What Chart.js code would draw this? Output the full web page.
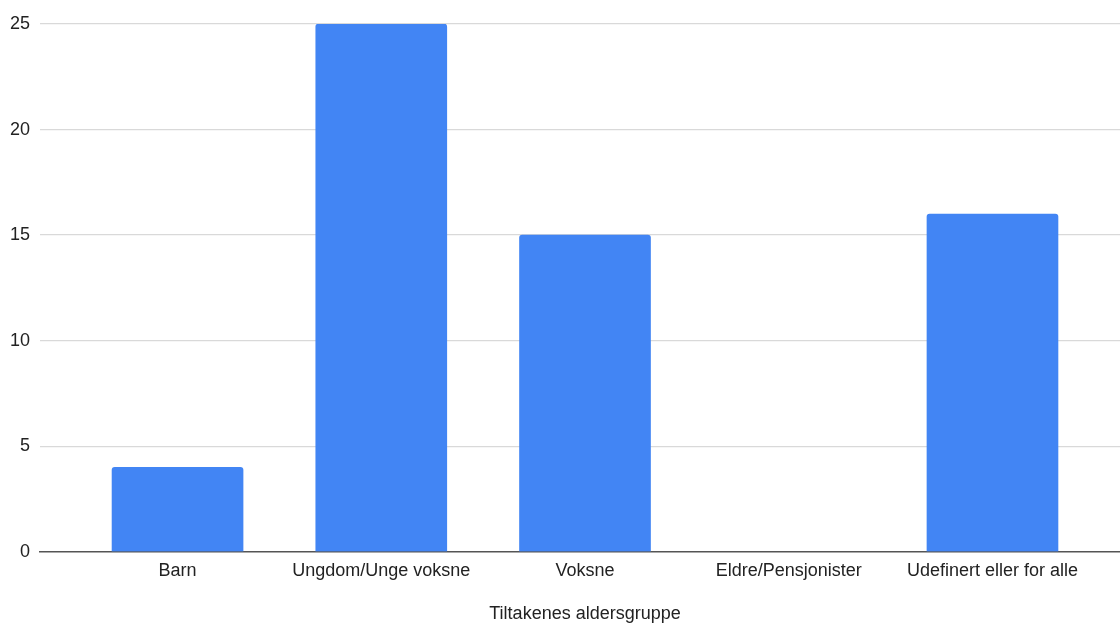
<!DOCTYPE html>
<html>
<head>
<meta charset="utf-8">
<script src="https://cdn.jsdelivr.net/npm/chart.js@4/dist/chart.umd.min.js"></script>
<style>
  html, body { margin: 0; padding: 0; background: #fff; overflow: hidden; }
  #wrap { width: 1130px; height: 625px; }
</style>
</head>
<body>
<div id="wrap"><canvas id="c" width="1130" height="625"></canvas></div>
<script>
// Age groups targeted by the measures, and how many measures each has
const categories = ['Barn', 'Ungdom/Unge voksne', 'Voksne', 'Eldre/Pensjonister', 'Udefinert eller for alle'];
const counts = [4, 25, 15, 0, 16];
const yTickValues = [0, 5, 10, 15, 20, 25];
const xTitle = 'Tiltakenes aldersgruppe';

const FONT = "'Liberation Sans', Arial, Helvetica, sans-serif";
const TEXT = '#222222';
const BAR = '#4285F4';

const points = categories.map((name, i) => ({ x: i, y: counts[i] }));

new Chart(document.getElementById('c'), {
  type: 'bar',
  data: {
    datasets: [{
      data: points,
      // an empty group gets no visible sliver on the baseline
      backgroundColor: (ctx) => (ctx.raw && ctx.raw.y === 0) ? 'rgba(0,0,0,0)' : BAR,
      borderWidth: 0,
      borderRadius: 3,
      barThickness: 131
    }]
  },
  options: {
    responsive: false,
    devicePixelRatio: 1,
    animation: false,
    events: [],
    layout: { padding: { top: 24, left: 0, right: 0, bottom: 0 } },
    plugins: { legend: { display: false }, tooltip: { enabled: false } },
    scales: {
      x: {
        type: 'linear',
        offset: false,
        bounds: 'data',
        min: -0.675,
        max: 4.675,
        afterBuildTicks: (axis) => { axis.ticks = categories.map((_, i) => ({ value: i })); },
        ticks: {
          autoSkip: false,
          maxRotation: 0,
          padding: 8,
          color: TEXT,
          font: { family: FONT, size: 18 },
          callback: (value) => categories[value]
        },
        grid: { display: false, drawTicks: false, offset: false },
        border: { display: true, color: '#555555', width: 1.5 },
        title: {
          display: true,
          text: xTitle,
          color: TEXT,
          font: { family: FONT, size: 18 },
          padding: { top: 14, bottom: 0 }
        }
      },
      y: {
        min: 0,
        max: 25,
        afterBuildTicks: (axis) => { axis.ticks = yTickValues.map(v => ({ value: v })); },
        ticks: {
          padding: 10,
          color: TEXT,
          font: { family: FONT, size: 18 }
        },
        grid: {
          drawTicks: false,
          lineWidth: 1.3,
          color: (ctx) => (ctx.tick && ctx.tick.value === 0) ? 'rgba(0,0,0,0)' : '#d9d9d9'
        },
        border: { display: false }
      }
    }
  }
});
</script>
</body>
</html>
